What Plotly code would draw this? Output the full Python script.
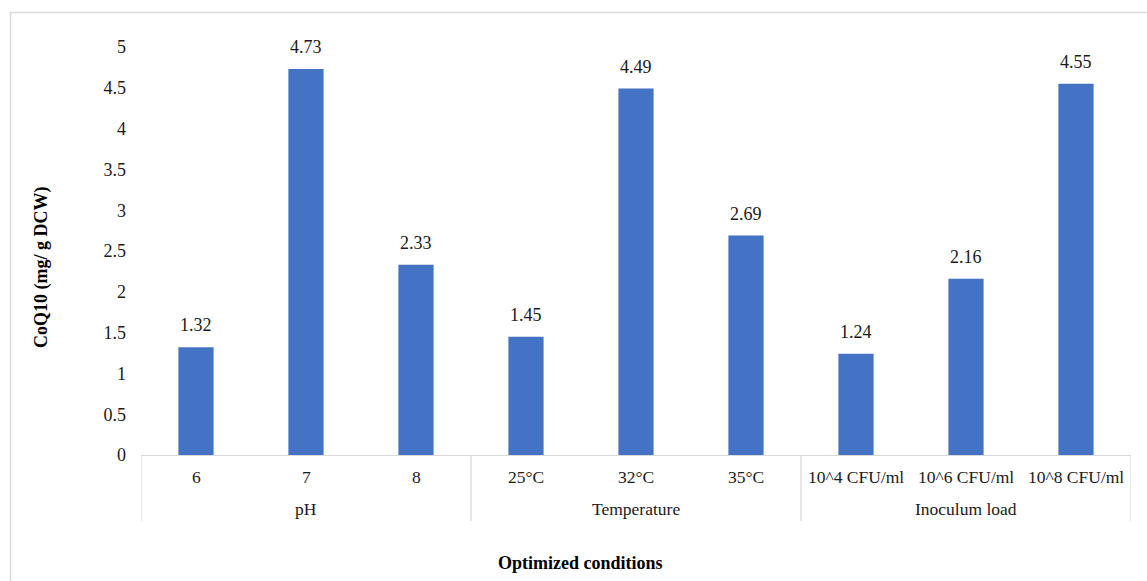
import plotly.graph_objects as go

groups = ["pH", "Temperature", "Inoculum load"]
categories = ["6", "7", "8", "25°C", "32°C", "35°C", "10^4 CFU/ml", "10^6 CFU/ml", "10^8 CFU/ml"]
group_of = ["pH", "pH", "pH", "Temperature", "Temperature", "Temperature",
            "Inoculum load", "Inoculum load", "Inoculum load"]
values = [1.32, 4.73, 2.33, 1.45, 4.49, 2.69, 1.24, 2.16, 4.55]
y_ticks = [0, 0.5, 1, 1.5, 2, 2.5, 3, 3.5, 4, 4.5, 5]

FONT = "Liberation Serif"
BAR = "#4472C4"
GRID = "#D9D9D9"
TXT = "#1a1a1a"

xs = list(range(len(categories)))

fig = go.Figure(go.Bar(
    x=xs, y=values,
    marker=dict(color=BAR, line=dict(width=0)),
    width=0.32,
    hoverinfo="x+y",
))

W, H = 1147, 581
L, R, T, B = 141, 16, 47, 126
ph = H - T - B
pw = W - L - R

def py(px_below_axis):
    return -px_below_axis / ph

def pxx(px):
    return (px - L) / pw

shapes = []
annotations = []
# value labels above bars
for x, v in zip(xs, values):
    annotations.append(dict(x=x, y=v, xref="x", yref="y", text=f"{v:.2f}", showarrow=False,
                            yshift=22, xanchor="center", yanchor="middle",
                            font=dict(family=FONT, size=18, color=TXT)))
start = 0
bounds = [-0.5]
for g in groups:
    n = group_of.count(g)
    center = start + (n - 1) / 2
    annotations.append(dict(x=center, y=py(54), xref="x", yref="paper", text=g,
                            showarrow=False, font=dict(family=FONT, size=17.5, color=TXT),
                            xanchor="center", yanchor="middle"))
    start += n
    bounds.append(start - 0.5)
for b in bounds:
    shapes.append(dict(type="line", xref="x", yref="paper", x0=b, x1=b, y0=0, y1=py(66),
                       line=dict(color=GRID, width=1.3)))
for i, c in enumerate(categories):
    annotations.append(dict(x=i, y=py(22), xref="x", yref="paper", text=c,
                            showarrow=False, font=dict(family=FONT, size=17.5, color=TXT),
                            xanchor="center", yanchor="middle"))
annotations.append(dict(x=pxx(580), y=py(108), xref="paper", yref="paper",
                        text="<b>Optimized conditions</b>", showarrow=False,
                        font=dict(family=FONT, size=18, color="#000000"),
                        xanchor="center", yanchor="middle"))
annotations.append(dict(x=pxx(41), y=(455 - 268) / ph, xref="paper", yref="paper",
                        text="<b>CoQ10 (mg/ g DCW)</b>", showarrow=False, textangle=-90,
                        font=dict(family=FONT, size=18, color="#000000"),
                        xanchor="center", yanchor="middle"))
shapes.append(dict(type="rect", xref="paper", yref="paper",
                   x0=pxx(10.5), x1=pxx(W + 10),
                   y0=-(B + 10) / ph, y1=1 + (T - 12.5) / ph,
                   line=dict(color=GRID, width=1.5), fillcolor="rgba(0,0,0,0)", layer="below"))

fig.update_layout(
    width=W, height=H,
    margin=dict(l=L, r=R, t=T, b=B),
    paper_bgcolor="white", plot_bgcolor="white",
    showlegend=False,
    shapes=shapes, annotations=annotations,
    xaxis=dict(range=[-0.5, len(categories) - 0.5], showticklabels=False, ticks="",
               showgrid=False, zeroline=False, showline=True, linecolor=GRID, linewidth=1.3,
               fixedrange=True),
    yaxis=dict(range=[0, 5], tickvals=y_ticks, ticktext=[f"{v:g}" for v in y_ticks],
               showgrid=False, zeroline=False, showline=False, ticks="",
               tickfont=dict(family=FONT, size=18, color=TXT), ticklabelstandoff=14),
)

fig.write_html("out.html", config={"displayModeBar": False},
               post_script="document.body.style.margin='0';document.body.style.overflow='hidden';")
